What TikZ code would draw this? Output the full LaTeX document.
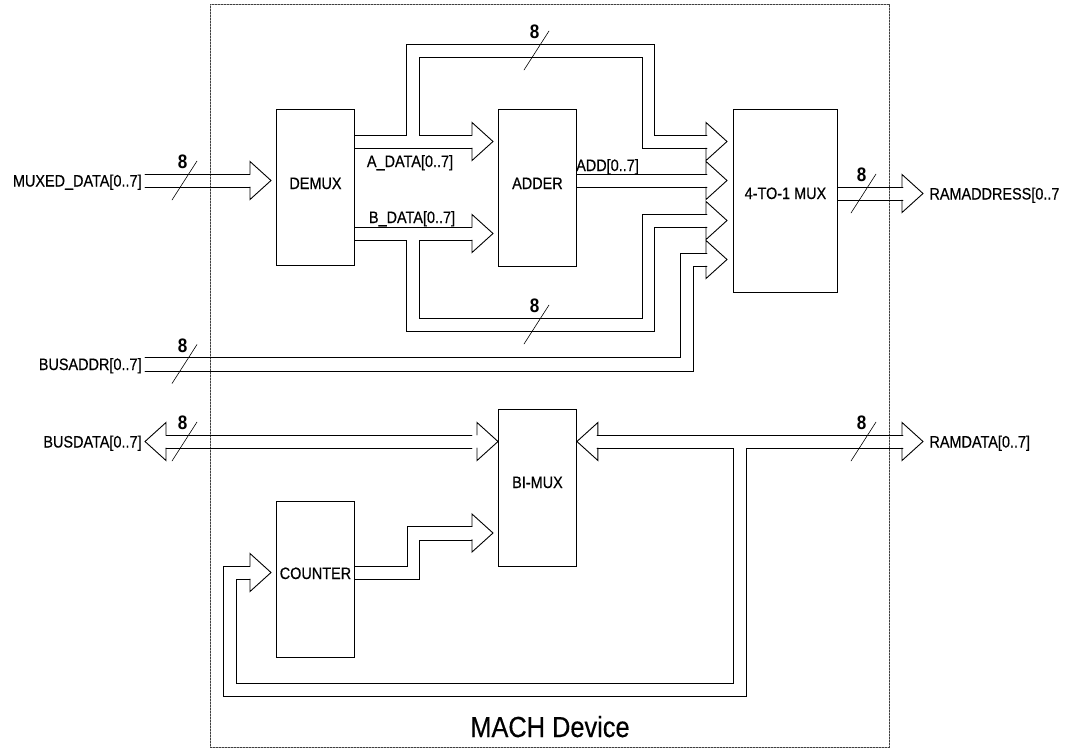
\documentclass[tikz,border=0pt]{standalone}
\usepackage{fontspec}
\setmainfont{Liberation Sans}[FakeStretch=0.875, UprightFeatures={FakeBold=0.4}]
\usetikzlibrary{positioning,calc}

\begin{document}
\begin{tikzpicture}[
    x=1pt, y=-1pt,
    line width=0.9pt,
    line cap=round,
    font=\fontsize{16.5}{19}\selectfont,
    block/.style={
        rectangle,
        draw=black,
        anchor=north west,
        inner sep=0pt,
        minimum width=78pt,
        minimum height=156pt
    },
    blocktext/.style={
        anchor=base,
        inner sep=0pt
    },
    sig/.style={
        inner xsep=3pt,
        inner ysep=0pt
    },
    device/.style={
        rectangle,
        draw=black!75,
        line width=0.6pt,
        dash pattern=on 2pt off 1pt,
        anchor=north west,
        inner sep=0pt,
        minimum width=679pt,
        minimum height=743pt
    },
    bushead/.pic={
        \draw (-21,-6.5) -- (-21,-19) -- (0,0) -- (-21,19) -- (-21,6.5);
    },
    buswidth/.pic={
        \draw[line width=0.6pt] (-12.5,19.5) -- (12.5,-19.5);
        \node[font=\bfseries\fontsize{19.5}{21}\selectfont, inner sep=0pt] (-n) at (-2,-18.5) {8};
    }
]
\useasboundingbox (0,0) rectangle (1075,750);

% device outline
\node[device] (mach) at (210,4) {};
\node[anchor=base, inner sep=0pt, font=\fontsize{29}{32}\selectfont] (machtxt) at (550,737) {MACH Device};

% blocks
\node[block] (demux) at (276,109) {};
\node[block, minimum height=157pt] (adder) at (498,109) {};
\node[block, minimum width=104pt, minimum height=183pt] (mux) at (733,109) {};
\node[block, minimum height=157pt] (bimux) at (498,409) {};
\node[block] (counter) at (276,501) {};

\node[blocktext] (demuxtxt) at (demux.center |- 0,189) {DEMUX};
\node[blocktext] (addertxt) at (adder.center |- 0,189) {ADDER};
\node[blocktext] (muxtxt) at (mux.center |- 0,199) {4-TO-1 MUX};
\node[blocktext] (bimuxtxt) at (bimux.center |- 0,488) {BI-MUX};
\node[blocktext] (countertxt) at (counter.center |- 0,579) {COUNTER};

% pins
\node[sig, anchor=base east] (muxedin) at (145,186.5) {MUXED\_DATA[0..7]};
\node[sig, anchor=base east] (busaddr) at (145,370) {BUSADDR[0..7]};
\node[sig, anchor=base east] (busdata) at (145,447.5) {BUSDATA[0..7]};
\node[sig, anchor=base west] (ramaddr) at (926,199.5) {RAMADDRESS[0..7};
\node[sig, anchor=base west] (ramdata) at (926,447.5) {RAMDATA[0..7]};

% bus names
\node[blocktext] (adata) at (410,167) {A\_DATA[0..7]};
\node[blocktext] (bdata) at (412,223) {B\_DATA[0..7]};
\node[blocktext] (adddata) at (607.5,171) {ADD[0..7]};

% MUXED_DATA -> DEMUX
\draw (muxedin.east |- 0,174) -- (250,174);
\draw (muxedin.east |- 0,187) -- (250,187);
\pic at (271,180.5) {bushead};
\pic (w1) at (184.5,180.5) {buswidth};

% A_DATA -> ADDER and MUX
\draw (demux.east |- 0,135) -- (406,135) -- (406,44) -- (654,44) -- (654,135) -- (707,135);
\draw (472,135) -- (419,135) -- (419,57) -- (642,57) -- (642,148) -- (707,148);
\draw (demux.east |- 0,148) -- (472,148);
\pic at (493,141.5) {bushead};
\pic at (727,141.5) {bushead};
\pic (w2) at (536.5,50.5) {buswidth};

% ADD -> MUX
\draw (adder.east |- 0,174) -- (707,174);
\draw (adder.east |- 0,187) -- (707,187);
\pic at (727,180.5) {bushead};

% B_DATA -> ADDER and MUX
\draw (demux.east |- 0,227) -- (472,227);
\draw (demux.east |- 0,240) -- (406,240) -- (406,331) -- (654,331) -- (654,227) -- (707,227);
\draw (472,240) -- (419,240) -- (419,318) -- (642,318) -- (642,214) -- (707,214);
\pic at (493,233.5) {bushead};
\pic at (727,220.5) {bushead};
\pic (w3) at (536.5,324.5) {buswidth};

% BUSADDR -> MUX
\draw (busaddr.east |- 0,357) -- (680,357) -- (680,253) -- (707,253);
\draw (busaddr.east |- 0,371) -- (693,371) -- (693,266) -- (707,266);
\pic at (727,259.5) {bushead};
\pic (w4) at (184.5,364) {buswidth};

% MUX -> RAMADDRESS
\draw (mux.east |- 0,187) -- (903,187);
\draw (mux.east |- 0,200) -- (903,200);
\pic at (923,193.5) {bushead};
\pic (w5) at (863.5,193.5) {buswidth};

% BUSDATA <-> BI-MUX
\pic[rotate=180] at (145,441.5) {bushead};
\draw (166,435) -- (472,435);
\draw (166,448) -- (472,448);
\pic at (bimux.west |- 493,441.5) {bushead};
\pic (w6) at (184.5,441.5) {buswidth};

% BI-MUX <-> RAMDATA, loop to COUNTER
\pic[rotate=180] at (bimux.east |- 0,441.5) {bushead};
\draw (597,435) -- (903,435);
\draw (597,448) -- (733,448) -- (733,683) -- (236,683) -- (236,579) -- (250,579);
\draw (903,448) -- (746,448) -- (746,696) -- (223,696) -- (223,566) -- (250,566);
\pic at (923,441.5) {bushead};
\pic at (271,572.5) {bushead};
\pic (w7) at (863.5,441.5) {buswidth};

% COUNTER -> BI-MUX
\draw (counter.east |- 0,566) -- (407,566) -- (407,526) -- (472,526);
\draw (counter.east |- 0,579) -- (419,579) -- (419,540) -- (472,540);
\pic at (493,533) {bushead};

\end{tikzpicture}
\end{document}
